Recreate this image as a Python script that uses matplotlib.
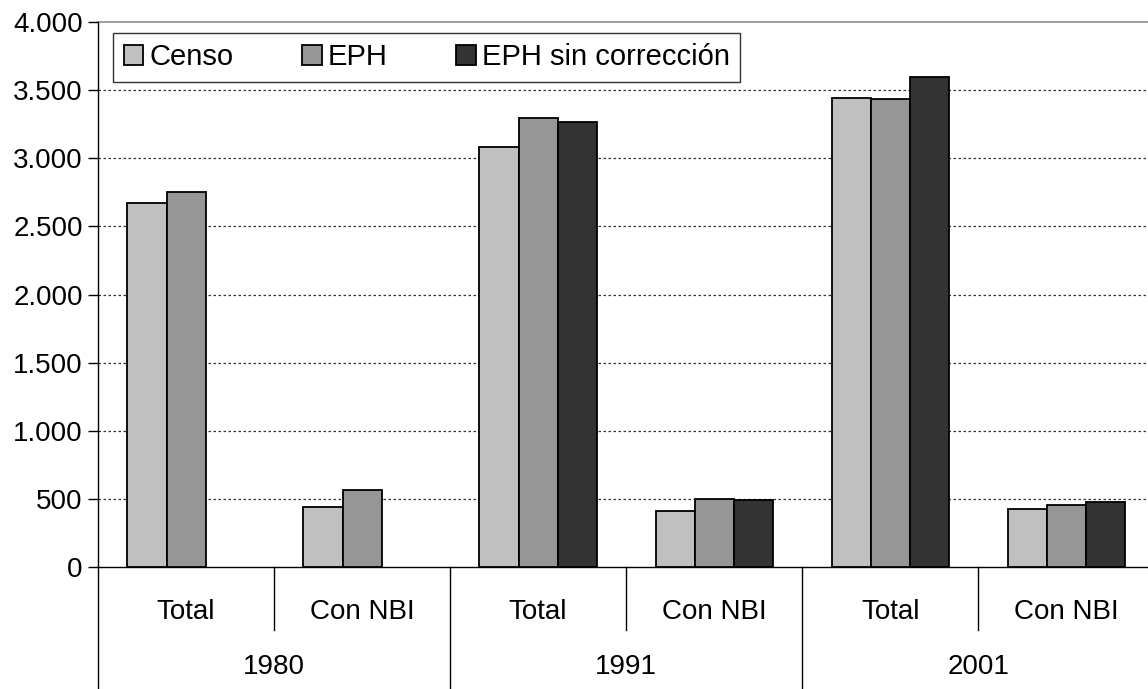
import matplotlib.pyplot as plt
import matplotlib.transforms as mtransforms
import numpy as np

plt.rcParams['font.family'] = ['Liberation Sans', 'DejaVu Sans']

# Data
years = ['1980', '1991', '2001']
groups = ['Total', 'Con NBI']
censo = [2675, 441, 3084, 412, 3439, 424]
eph = [2756, 562, 3294, 496, 3434, 454]
eph_sin = [np.nan, np.nan, 3268, 490, 3599, 476]

series = [('Censo', censo, '#C0C0C0'),
          ('EPH', eph, '#969696'),
          ('EPH sin corrección', eph_sin, '#333333')]

fig = plt.figure(figsize=(11.48, 6.89), dpi=100)
ax = fig.add_axes([0.0854, 0.177, 0.92, 0.791])

x = np.arange(len(censo))
w = 0.222
for k, (name, vals, col) in enumerate(series):
    ax.bar(x + (k - 1) * w, vals, width=w, color=col, edgecolor='black',
           linewidth=1.3, label=name, zorder=3)

fs = 20
ax.set_xlim(-0.5, len(censo) - 0.5)
ax.set_ylim(0, 4000)
yt = np.arange(0, 4001, 500)
ax.set_yticks(yt)
ax.set_yticklabels([f'{v:,}'.replace(',', '.') for v in yt], fontsize=fs)
ax.tick_params(axis='y', length=7, width=1, pad=4)

# gridlines
for v in yt[1:-1]:
    ax.axhline(v, color='#333333', linestyle=(0, (2, 2)), linewidth=0.9, zorder=1)
ax.axhline(4000, color='#999999', linewidth=1.3, zorder=1, clip_on=False)

for s in ['top', 'right']:
    ax.spines[s].set_visible(False)
ax.spines['left'].set_linewidth(1)
ax.spines['bottom'].set_linewidth(1)

# two-level category axis
ax.set_xticks([])
trans = mtransforms.blended_transform_factory(ax.transData, ax.transAxes)
for i in range(len(censo)):
    ax.text(i, -0.082, groups[i % 2], transform=trans, ha='center', va='center',
            fontsize=fs)
for j, yr in enumerate(years):
    ax.text(2 * j + 0.5, -0.183, yr, transform=trans, ha='center', va='center',
            fontsize=fs)
for b in np.arange(-0.5, len(censo), 1.0):
    idx = int(b + 0.5)
    if idx % 2 == 0:
        y0 = -0.26
    else:
        y0 = -0.116
    ax.plot([b, b], [0, y0], transform=trans, color='black', linewidth=1,
            clip_on=False)

leg = ax.legend(loc='upper left', bbox_to_anchor=(0.0142, 0.98), ncol=3,
                fontsize=21, frameon=True, fancybox=False, edgecolor='black',
                handlelength=0.68, handleheight=0.68, handletextpad=0.2,
                columnspacing=2.35, borderpad=0.36, borderaxespad=0)
leg.get_frame().set_linewidth(1)

plt.savefig('out.png', dpi=100, facecolor='white')
